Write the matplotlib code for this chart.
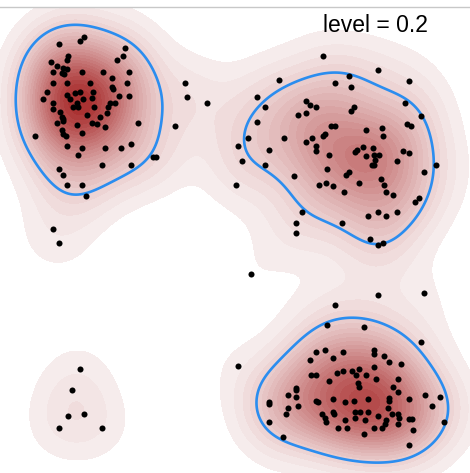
import numpy as np
import matplotlib.pyplot as plt
from matplotlib.colors import LinearSegmentedColormap

# points, in picture coordinates (x to the right, y downward)
tl_x = [84, 80, 59, 125, 123, 117, 68, 67, 51, 57, 63, 67, 62, 53, 64, 82, 103, 129, 112, 53,
        67, 90, 127, 112, 113, 47, 75, 80, 93, 67, 70, 43, 83, 92, 119, 129, 53, 77, 110, 115,
        73, 78, 94, 53, 108, 60, 107, 87, 62, 100, 63, 57, 63, 92, 97, 77, 138, 105, 62, 63,
        66, 35, 82, 67, 82, 105, 121, 131, 78, 153, 156, 102, 131, 59, 63, 67, 82, 86]
tl_y = [37, 41, 44, 48, 56, 60, 56, 60, 62, 66, 68, 69, 73, 72, 74, 72, 72, 72, 78, 83,
        83, 83, 83, 87, 89, 92, 93, 92, 92, 95, 99, 99, 99, 98, 96, 96, 103, 103, 103, 103,
        107, 107, 107, 109, 107, 112, 113, 115, 117, 117, 119, 123, 121, 123, 124, 125, 123, 127, 130, 134,
        136, 136, 133, 146, 148, 148, 148, 144, 155, 157, 157, 165, 165, 169, 175, 185, 185, 196]

tr_x = [323, 378, 279, 349, 335, 351, 409, 257, 265, 306, 310, 316, 306, 298, 354, 351, 405, 421, 257, 331,
        335, 366, 382, 407, 411, 248, 284, 312, 323, 325, 383, 306, 316, 316, 238, 269, 363, 373, 357, 355,
        366, 374, 379, 372, 374, 375, 329, 403, 409, 397, 242, 265, 327, 349, 346, 294, 436, 424, 381, 359,
        326, 319, 333, 384, 344, 386, 393, 419, 415, 302, 296, 296, 342, 368, 378, 386, 397, 370, 378, 383]
tr_y = [56, 70, 80, 76, 83, 87, 81, 97, 107, 101, 105, 107, 113, 115, 107, 111, 103, 116, 122, 126,
        126, 130, 128, 124, 126, 138, 138, 138, 136, 134, 136, 142, 146, 151, 146, 150, 147, 148, 150, 152,
        156, 155, 155, 165, 165, 160, 155, 151, 153, 161, 161, 165, 169, 172, 175, 176, 165, 172, 179, 183,
        183, 185, 186, 185, 192, 192, 195, 198, 202, 212, 223, 233, 223, 216, 212, 216, 212, 239, 245, 243]

br_x = [327, 364, 421, 316, 325, 343, 374, 374, 384, 310, 333, 389, 401, 374, 311, 316, 337, 343, 352, 359,
        356, 366, 329, 376, 398, 358, 359, 393, 398, 296, 296, 288, 296, 425, 440, 269, 269, 316, 318, 333,
        345, 354, 368, 389, 389, 409, 288, 298, 286, 322, 325, 326, 333, 334, 355, 360, 368, 355, 365, 378,
        388, 392, 398, 399, 409, 412, 386, 385, 382, 374, 345, 347, 338, 398, 413, 432, 444, 269, 283, 364,
        409, 238]
br_y = [325, 327, 342, 352, 350, 352, 350, 354, 356, 360, 358, 362, 364, 367, 375, 375, 373, 371, 371, 369,
        375, 375, 381, 379, 379, 383, 387, 387, 392, 388, 390, 395, 397, 395, 397, 402, 404, 401, 402, 399,
        402, 401, 399, 398, 401, 399, 408, 406, 414, 414, 418, 422, 412, 414, 412, 412, 412, 418, 420, 416,
        408, 414, 414, 418, 419, 419, 420, 424, 428, 428, 420, 428, 428, 424, 430, 406, 422, 422, 437, 434,
        445, 366]

bl_x = [80, 72, 68, 84, 59, 102]
bl_y = [369, 390, 416, 414, 428, 428]

stray_x = [53, 59, 175, 185, 187, 207, 236, 251, 335, 378, 424]
stray_y = [229, 243, 126, 83, 97, 103, 185, 274, 305, 295, 293]

level = 0.2
bandwidth = 28.0

px = np.array(tl_x + tr_x + br_x + bl_x + stray_x, dtype=float)
py = np.array(tl_y + tr_y + br_y + bl_y + stray_y, dtype=float)

# gaussian kde on a grid
gx = np.arange(0, 471, 2.0)
gy = np.arange(7, 474, 2.0)
GX, GY = np.meshgrid(gx, gy)
dens = np.zeros_like(GX)
for xi, yi in zip(px, py):
    dens += np.exp(-((GX - xi) ** 2 + (GY - yi) ** 2) / (2 * bandwidth ** 2))
dens = dens / dens.max()

cmap = LinearSegmentedColormap.from_list("wb", ["#f8f0f0", "#a82d2d"])

fig = plt.figure(figsize=(4.70, 4.73), dpi=100)
ax = fig.add_axes([0, 0, 1, 466 / 473])
levels = np.linspace(0.04, 1.0, 25)
ax.contourf(GX, GY, dens, levels=list(levels) + [1.01], cmap=cmap)
ax.contour(GX, GY, dens, levels=[level], colors="#2b8def", linewidths=1.9)
ax.scatter(px, py, s=19, color="black", zorder=3, linewidths=0)
ax.text(375, 25, "level = %s" % level, ha="center", va="center",
        fontsize=16.5, family="Liberation Sans", color="black")

ax.set_xlim(0, 470)
ax.set_ylim(473, 7)
ax.set_xticks([])
ax.set_yticks([])
for s in ["left", "right", "bottom"]:
    ax.spines[s].set_visible(False)
ax.spines["top"].set_color("#c8c8c8")
ax.spines["top"].set_linewidth(1.0)

fig.savefig("out.png", dpi=100)
